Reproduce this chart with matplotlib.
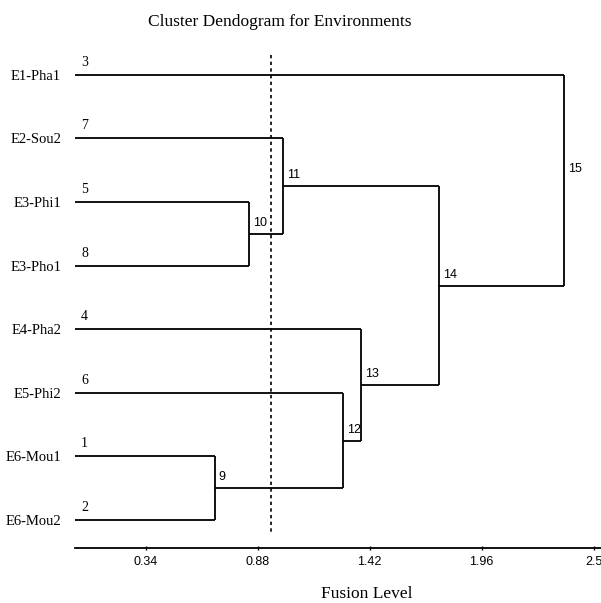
import matplotlib.pyplot as plt

# leaves, top to bottom, with their object numbers
leaves = ["E1-Pha1", "E2-Sou2", "E3-Phi1", "E3-Pho1", "E4-Pha2", "E5-Phi2", "E6-Mou1", "E6-Mou2"]
leaf_ids = [3, 7, 5, 8, 4, 6, 1, 2]

# merges: (node id, left member, right member, fusion level)
merge_ids = [9, 10, 11, 12, 13, 14, 15]
merge_a = ["E6-Mou1", "E3-Phi1", "E2-Sou2", "E5-Phi2", "E4-Pha2", 11, "E1-Pha1"]
merge_b = ["E6-Mou2", "E3-Pho1", 10, 9, 12, 13, 14]
merge_level = [0.673, 0.837, 1.005, 1.29, 1.38, 1.756, 2.359]

cut_level = 0.946
xticks = [0.34, 0.88, 1.42, 1.96, 2.5]

serif = "Liberation Serif"
sans = "Liberation Sans"

fig = plt.figure(figsize=(6.01, 6.03), dpi=100)
ax = fig.add_axes([75 / 601, 1 - 548 / 603, 526 / 601, (548 - 45) / 603])

# position (y) and height (x) of every node
pos = {}
hgt = {}
for i, name in enumerate(leaves):
    pos[name] = i
    hgt[name] = 0.0

lw = 1.3
for nid, a, b, lev in zip(merge_ids, merge_a, merge_b, merge_level):
    ya, yb = pos[a], pos[b]
    ax.plot([hgt[a], lev], [ya, ya], color="black", lw=lw, solid_capstyle="butt")
    ax.plot([hgt[b], lev], [yb, yb], color="black", lw=lw, solid_capstyle="butt")
    ax.plot([lev, lev], [ya, yb], color="black", lw=lw, solid_capstyle="butt")
    ym = (ya + yb) / 2
    pos[nid] = ym
    hgt[nid] = lev
    ax.annotate(str(nid), (lev, ym), xytext=(4, 5), textcoords="offset pixels",
                ha="left", va="bottom", fontsize=9, family=sans)

# leaf numbers just above each leaf line
for i, lid in enumerate(leaf_ids):
    ax.annotate(str(lid), (0, i), xytext=(6, 6), textcoords="offset pixels",
                ha="left", va="bottom", fontsize=10, family=serif)

# cut line
ax.plot([cut_level, cut_level], [-0.31, 7.24], color="black", lw=1.2, ls=(0, (2, 2)))

ax.set_xlim(0, 2.536)
ax.set_ylim(7.44, -0.47)
ax.set_yticks(range(len(leaves)))
ax.set_yticklabels(leaves, family=serif, fontsize=10.5)
ax.tick_params(axis="y", length=0, pad=10)
ax.set_xticks(xticks)
ax.set_xticklabels([f"{t:g}" for t in xticks], family=sans, fontsize=9)
ax.tick_params(axis="x", length=3, width=1, pad=4, direction="inout")

for s in ["top", "right", "left"]:
    ax.spines[s].set_visible(False)
ax.spines["bottom"].set_linewidth(1.3)

ax.set_xlabel("Fusion Level", family=serif, fontsize=12.5, va="center")
ax.xaxis.set_label_coords((367 - 75) / 526, -(594 - 548) / 503)
fig.text(280 / 601, 1 - 22 / 603, "Cluster Dendogram for Environments",
         ha="center", va="center", family=serif, fontsize=12.5)

fig.savefig("out.png", dpi=100)
